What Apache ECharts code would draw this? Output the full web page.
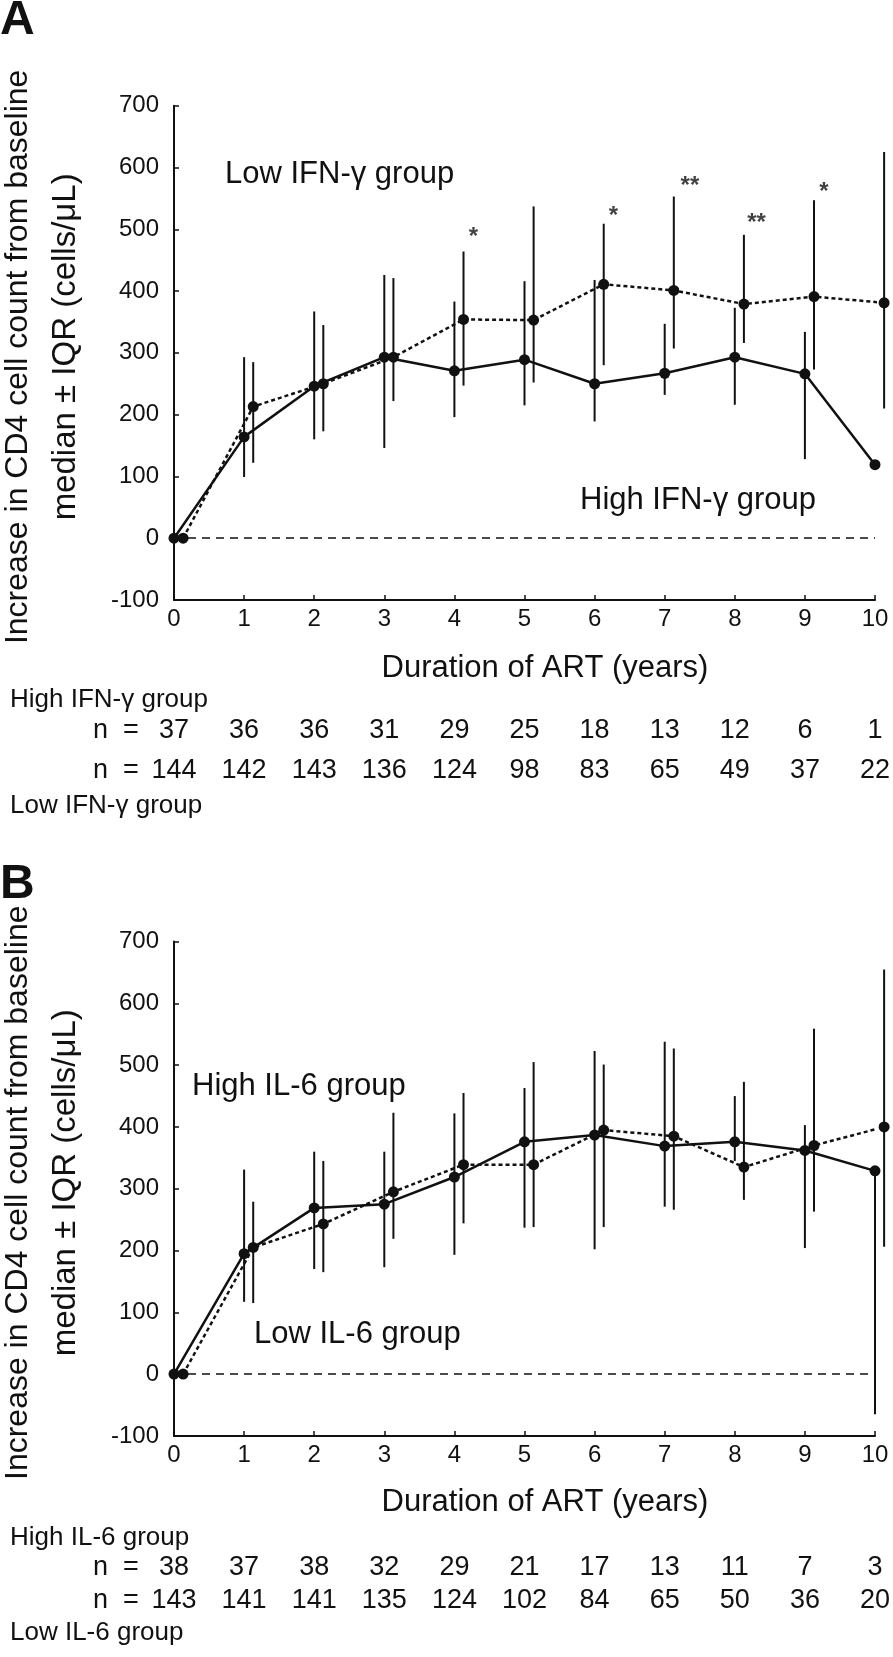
<!DOCTYPE html>
<html><head><meta charset="utf-8">
<script src="https://cdn.jsdelivr.net/npm/echarts@6/dist/echarts.min.js"></script>
<style>html,body{margin:0;padding:0;background:#fff}#c{width:893px;height:1657px}</style>
</head><body><div id="c"></div>
<script>
// ---------- data ----------
const years = [0,1,2,3,4,5,6,7,8,9,10];
const lowOffset = 0.13; // low group plotted slightly right of each year
const yTicks = [-100,0,100,200,300,400,500,600,700];

// Panel A: IFN-gamma
const ifnHighMedian = [0,164,246,293,271,289,250,267,293,266,119];
const ifnHighQ1     = [null,99,160,146,196,215,189,232,216,128,null];
const ifnHighQ3     = [null,293,367,426,383,416,418,347,373,334,null];
const ifnLowMedian  = [0,213,250,293,354,353,411,401,379,391,381];
const ifnLowQ1      = [null,122,173,222,247,252,280,307,316,273,210];
const ifnLowQ3      = [null,285,345,421,464,537,509,553,491,547,625];
const ifnHighN = [37,36,36,31,29,25,18,13,12,6,1];
const ifnLowN  = [144,142,143,136,124,98,83,65,49,37,22];
const ifnSigX    = [4.27,6.27,7.36,8.31,9.27];
const ifnSigY    = [492,525,574,514,565];
const ifnSigText = ['*','*','**','**','*'];

// Panel B: IL-6
const ilHighMedian = [0,195,269,275,319,376,387,369,376,362,329];
const ilHighQ1     = [null,117,170,173,193,237,202,271,345,204,-65];
const ilHighQ3     = [null,331,360,360,422,463,523,538,450,403,329];
const ilLowMedian  = [0,205,243,295,339,339,395,385,335,370,400];
const ilLowQ1      = [null,115,165,219,244,238,238,266,282,263,206];
const ilLowQ3      = [null,279,345,423,455,505,501,527,473,559,655];
const ilHighN = [38,37,38,32,29,21,17,13,11,7,3];
const ilLowN  = [143,141,141,135,124,102,84,65,50,36,20];

const xTitle = 'Duration of ART (years)';
const yTitle1 = 'Increase in CD4 cell count from baseline';
const yTitle2 = 'median \u00b1 IQR (cells/\u03bcL)';

// ---------- chart ----------
const FONT = "'Liberation Sans', Arial, Helvetica, sans-serif";
const INK = '#111';
const chart = echarts.init(document.getElementById('c'), null, {renderer:'canvas'});

function axisX(gi){
  return {gridIndex:gi, type:'value', min:0, max:10, interval:1,
    axisLine:{show:true, onZero:false, lineStyle:{color:INK, width:2}},
    axisTick:{show:true, inside:true, length:5, lineStyle:{color:INK, width:1.5}},
    axisLabel:{color:INK, fontFamily:FONT, fontSize:24, margin:7},
    splitLine:{show:false}};
}
function axisY(gi){
  return {gridIndex:gi, type:'value', min:yTicks[0], max:yTicks[yTicks.length-1], interval:100,
    axisLine:{show:true, onZero:false, lineStyle:{color:INK, width:2}},
    axisTick:{show:true, inside:true, length:5, lineStyle:{color:INK, width:1.5}},
    axisLabel:{color:INK, fontFamily:FONT, fontSize:24, margin:15},
    splitLine:{show:false}};
}
function errSeries(gi, xs, q1, q3){
  const data = [];
  xs.forEach((x,i)=>{ if(q1[i]!=null && q3[i]!=null) data.push([x,q1[i],q3[i]]); });
  return {type:'custom', xAxisIndex:gi, yAxisIndex:gi, data, z:3, silent:true,
    renderItem:(params, api)=>{
      const a = api.coord([api.value(0), api.value(1)]);
      const b = api.coord([api.value(0), api.value(2)]);
      return {type:'line', shape:{x1:a[0],y1:a[1],x2:b[0],y2:b[1]}, style:{stroke:INK, lineWidth:2}};
    }};
}
function medSeries(gi, xs, med, dotted, withZero){
  const s = {type:'line', xAxisIndex:gi, yAxisIndex:gi, clip:false, silent:true,
    data: xs.map((x,i)=>[x, med[i]]),
    symbol:'circle', symbolSize:11, showAllSymbol:true, z:4,
    itemStyle:{color:INK},
    lineStyle:{color:INK, width:2.5, type: dotted ? [4,3] : 'solid'}};
  if(withZero){
    s.markLine = {silent:true, symbol:'none', label:{show:false},
      lineStyle:{color:INK, width:1.5, type:[8,6]}, data:[{yAxis:0}]};
  }
  return s;
}
function sigSeries(gi, xs, ys, txt){
  return {type:'scatter', xAxisIndex:gi, yAxisIndex:gi, symbolSize:0, silent:true,
    data: xs.map((x,i)=>({value:[x, ys[i]], label:{formatter: txt[i]}})),
    label:{show:true, position:'inside', color:INK, fontFamily:FONT, fontSize:24, fontWeight:'bold', offset:[0,3]}};
}

const GRID_H = 494.3;
const gridA = {left:174, right:18, top:105.7, height:GRID_H};
const gridB = {left:174, right:18, top:941.6, height:GRID_H};
const shift = (arr)=>arr.map(v=>v+lowOffset);

chart.setOption({
  animation:false,
  backgroundColor:'#fff',
  grid:[gridA, gridB],
  xAxis:[axisX(0), axisX(1)],
  yAxis:[axisY(0), axisY(1)],
  series:[
    errSeries(0, years, ifnHighQ1, ifnHighQ3),
    errSeries(0, shift(years), ifnLowQ1, ifnLowQ3),
    medSeries(0, years, ifnHighMedian, false, true),
    medSeries(0, shift(years), ifnLowMedian, true, false),
    sigSeries(0, ifnSigX, ifnSigY, ifnSigText),
    errSeries(1, years, ilHighQ1, ilHighQ3),
    errSeries(1, shift(years), ilLowQ1, ilLowQ3),
    medSeries(1, years, ilHighMedian, false, true),
    medSeries(1, shift(years), ilLowMedian, true, false)
  ]
});

// ---------- texts ----------
function txt(x, y, s, size, opts){
  opts = opts || {};
  return {type:'text', x, y, rotation: opts.rot || 0, z:10, silent:true,
    style:{text:s, fill:INK, font:(opts.bold?'bold ':'') + size + 'px ' + FONT,
      textAlign: opts.align || 'left', textVerticalAlign: opts.va || 'middle'}};
}
const g = [];
function panel(gi, letter, letterY, axisTop, texts, rows, highLabel, lowLabel, highN, lowN){
  g.push(txt(0, letterY, letter, 48, {bold:true, va:'top'}));
  const cy = axisTop + GRID_H/2;
  g.push(txt(18, cy+4, yTitle1, 32, {rot:Math.PI/2, align:'center'}));
  g.push(txt(66, cy-6, yTitle2, 33, {rot:Math.PI/2, align:'center'}));
  g.push(txt(545, rows.title, xTitle, 31, {align:'center'}));
  texts.forEach(t=>g.push(txt(t[0], t[1], t[2], 31)));
  g.push(txt(10, rows.r0, highLabel, 26));
  g.push(txt(93, rows.r1, 'n  =', 27));
  g.push(txt(93, rows.r2, 'n  =', 27));
  g.push(txt(10, rows.r3, lowLabel, 26));
  years.forEach((yv,i)=>{
    const px = chart.convertToPixel({gridIndex:gi}, [yv, 0])[0];
    g.push(txt(px, rows.r1, String(highN[i]), 27, {align:'center'}));
    g.push(txt(px, rows.r2, String(lowN[i]), 27, {align:'center'}));
  });
}
panel(0, 'A', -3, 105.7,
  [[225,174,'Low IFN-\u03b3 group'],[580,500,'High IFN-\u03b3 group']],
  {title:668, r0:700, r1:731, r2:771, r3:806},
  'High IFN-\u03b3 group', 'Low IFN-\u03b3 group', ifnHighN, ifnLowN);
panel(1, 'B', 861, 941.6,
  [[192,1086,'High IL-6 group'],[254,1334,'Low IL-6 group']],
  {title:1502, r0:1538, r1:1568, r2:1601, r3:1633},
  'High IL-6 group', 'Low IL-6 group', ilHighN, ilLowN);
chart.setOption({graphic:g});
</script>
</body></html>
